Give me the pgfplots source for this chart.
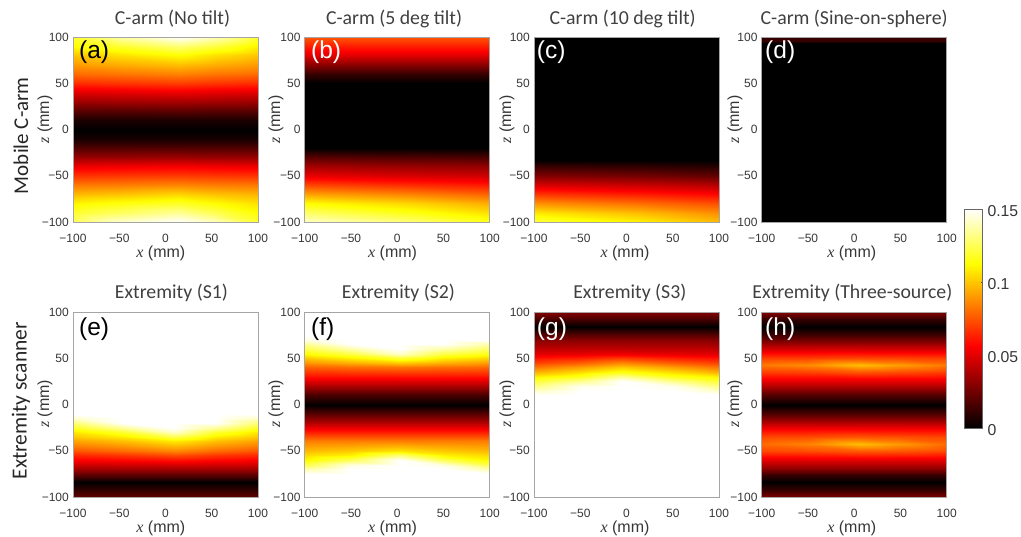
\documentclass[border=0pt]{standalone}
\usepackage{fontspec}
\setmainfont{Liberation Sans}
\newfontfamily\carl{Carlito}
\newfontfamily\tser{Liberation Serif}
\usepackage{pgfplots}
\usepackage{pgfplotstable}
\pgfplotsset{compat=1.18}
\definecolor{tickgray}{RGB}{55,55,55}
\definecolor{framegray}{RGB}{165,165,165}
\newcommand{\fs}[1]{\fontsize{#1}{#1}\selectfont}
\pgfplotstableread[row sep=\\]{
x z v\\
-100 -100 .126\\ -50 -100 .143\\ 15 -100 .15\\ 55 -100 .14\\ 100 -100 .12\\
-100 -90 .12\\ -50 -90 .127\\ 15 -90 .135\\ 55 -90 .125\\ 100 -90 .113\\
-100 -80 .11\\ -50 -80 .114\\ 15 -80 .118\\ 55 -80 .112\\ 100 -80 .106\\
-100 -70 .097\\ -50 -70 .099\\ 15 -70 .103\\ 55 -70 .099\\ 100 -70 .096\\
-100 -60 .083\\ -50 -60 .084\\ 15 -60 .086\\ 55 -60 .084\\ 100 -60 .083\\
-100 -50 .068\\ -50 -50 .069\\ 15 -50 .07\\ 55 -50 .069\\ 100 -50 .068\\
-100 -40 .052\\ -50 -40 .053\\ 15 -40 .054\\ 55 -40 .053\\ 100 -40 .052\\
-100 -30 .033\\ -50 -30 .033\\ 15 -30 .034\\ 55 -30 .033\\ 100 -30 .033\\
-100 -20 .018\\ -50 -20 .018\\ 15 -20 .018\\ 55 -20 .018\\ 100 -20 .018\\
-100 -10 .005\\ -50 -10 .005\\ 15 -10 .005\\ 55 -10 .005\\ 100 -10 .005\\
-100 -1 0\\ -50 -1 0\\ 15 -1 0\\ 55 -1 0\\ 100 -1 0\\
-100 10 .006\\ -50 10 .006\\ 15 10 .006\\ 55 10 .006\\ 100 10 .006\\
-100 20 .019\\ -50 20 .019\\ 15 20 .02\\ 55 20 .019\\ 100 20 .019\\
-100 30 .034\\ -50 30 .035\\ 15 30 .036\\ 55 30 .035\\ 100 30 .034\\
-100 40 .05\\ -50 40 .051\\ 15 40 .053\\ 55 40 .051\\ 100 40 .05\\
-100 50 .066\\ -50 50 .068\\ 15 50 .07\\ 55 50 .068\\ 100 50 .066\\
-100 60 .08\\ -50 60 .082\\ 15 60 .085\\ 55 60 .082\\ 100 60 .08\\
-100 70 .09\\ -50 70 .094\\ 15 70 .098\\ 55 70 .094\\ 100 70 .09\\
-100 80 .1\\ -50 80 .106\\ 15 80 .113\\ 55 80 .106\\ 100 80 .1\\
-100 90 .113\\ -50 90 .12\\ 15 90 .13\\ 55 90 .122\\ 100 90 .11\\
-100 100 .12\\ -50 100 .137\\ 15 100 .15\\ 55 100 .14\\ 100 100 .12\\
}\tabA
\pgfplotstableread[row sep=\\]{
x z v\\
-100 -100 .142\\ 15 -100 .13\\ 100 -100 .117\\
-100 -90 .128\\ 15 -90 .116\\ 100 -90 .106\\
-100 -80 .112\\ 15 -80 .103\\ 100 -80 .094\\
-100 -70 .092\\ 15 -70 .085\\ 100 -70 .078\\
-100 -60 .072\\ 15 -60 .066\\ 100 -60 .062\\
-100 -50 .052\\ 15 -50 .048\\ 100 -50 .046\\
-100 -40 .036\\ 15 -40 .033\\ 100 -40 .032\\
-100 -30 .019\\ 15 -30 .017\\ 100 -30 .016\\
-100 -20 0\\ 15 -20 0\\ 100 -20 0\\
-100 50 0\\ 15 50 0\\ 100 50 0\\
-100 60 .012\\ 15 60 .012\\ 100 60 .012\\
-100 70 .03\\ 15 70 .03\\ 100 70 .03\\
-100 80 .05\\ 15 80 .05\\ 100 80 .05\\
-100 90 .063\\ 15 90 .063\\ 100 90 .063\\
-100 100 .075\\ 15 100 .075\\ 100 100 .075\\
}\tabB
\pgfplotstableread[row sep=\\]{
x z v\\
-100 -100 .122\\ 15 -100 .11\\ 100 -100 .098\\
-100 -90 .108\\ 15 -90 .098\\ 100 -90 .088\\
-100 -80 .088\\ 15 -80 .08\\ 100 -80 .073\\
-100 -70 .068\\ 15 -70 .062\\ 100 -70 .057\\
-100 -60 .048\\ 15 -60 .044\\ 100 -60 .04\\
-100 -50 .029\\ 15 -50 .026\\ 100 -50 .022\\
-100 -40 .012\\ 15 -40 .01\\ 100 -40 .008\\
-100 -33 0\\ 15 -33 0\\ 100 -33 0\\
-100 100 0\\ 15 100 0\\ 100 100 0\\
}\tabC
\pgfplotstableread[row sep=\\]{
x z v\\
-100 -100 0\\ 100 -100 0\\
-100 94 0\\ 100 94 0\\
-100 96 .012\\ 100 96 .012\\
-100 100 .012\\ 100 100 .012\\
}\tabD
\pgfplotstableread[row sep=\\]{
x z v\\
-100 -100 .022\\ -45 -100 .022\\ 10 -100 .022\\ 55 -100 .022\\ 100 -100 .022\\
-100 -90 .008\\ -45 -90 .008\\ 10 -90 .008\\ 55 -90 .008\\ 100 -90 .008\\
-100 -84 0\\ -45 -84 0\\ 10 -84 0\\ 55 -84 0\\ 100 -84 0\\
-100 -80 .012\\ -45 -80 .012\\ 10 -80 .012\\ 55 -80 .012\\ 100 -80 .012\\
-100 -70 .036\\ -45 -70 .036\\ 10 -70 .036\\ 55 -70 .036\\ 100 -70 .036\\
-100 -60 .056\\ -45 -60 .0575\\ 10 -60 .06\\ 55 -60 .0575\\ 100 -60 .056\\
-100 -55 .065\\ -45 -55 .0685\\ 10 -55 .0735\\ 55 -55 .0685\\ 100 -55 .065\\
-100 -50 .0747\\ -45 -50 .0795\\ 10 -50 .086\\ 55 -50 .0795\\ 100 -50 .0747\\
-100 -45 .084\\ -45 -45 .0895\\ 10 -45 .097\\ 55 -45 .0895\\ 100 -45 .084\\
-100 -40 .092\\ -45 -40 .0985\\ 10 -40 .108\\ 55 -40 .0985\\ 100 -40 .092\\
-100 -35 .1\\ -45 -35 .108\\ 10 -35 .1237\\ 55 -35 .108\\ 100 -35 .1\\
-100 -30 .1077\\ -45 -30 .12\\ 10 -30 .1425\\ 55 -30 .12\\ 100 -30 .1077\\
-100 -25 .1175\\ -45 -25 .135\\ 10 -25 .15\\ 55 -25 .135\\ 100 -25 .1175\\
-100 -20 .13\\ -45 -20 .15\\ 10 -20 .15\\ 55 -20 .15\\ 100 -20 .13\\
-100 -15 .1425\\ -45 -15 .15\\ 10 -15 .15\\ 55 -15 .15\\ 100 -15 .1425\\
-100 -10 .15\\ -45 -10 .15\\ 10 -10 .15\\ 55 -10 .15\\ 100 -10 .15\\
-100 100 .15\\ -45 100 .15\\ 10 100 .15\\ 55 100 .15\\ 100 100 .15\\
}\tabE
\pgfplotstableread[row sep=\\]{
x z v\\
-100 -100 .15\\ -50 -100 .15\\ 3 -100 .15\\ 50 -100 .15\\ 100 -100 .15\\
-100 -75 .15\\ -50 -75 .15\\ 3 -75 .15\\ 50 -75 .15\\ 100 -75 .15\\
-100 -70 .138\\ -50 -70 .15\\ 3 -70 .15\\ 50 -70 .15\\ 100 -70 .138\\
-100 -65 .124\\ -50 -65 .146\\ 3 -65 .15\\ 50 -65 .146\\ 100 -65 .124\\
-100 -60 .111\\ -50 -60 .1255\\ 3 -60 .15\\ 50 -60 .1255\\ 100 -60 .111\\
-100 -55 .1043\\ -50 -55 .1095\\ 3 -55 .1295\\ 50 -55 .1095\\ 100 -55 .1043\\
-100 -50 .0975\\ -50 -50 .101\\ 3 -50 .1068\\ 50 -50 .101\\ 100 -50 .0975\\
-100 -45 .0908\\ -50 -45 .0925\\ 3 -45 .0954\\ 50 -45 .0925\\ 100 -45 .0908\\
-100 -40 .084\\ -50 -40 .084\\ 3 -40 .084\\ 50 -40 .084\\ 100 -40 .084\\
-100 -30 .0625\\ -50 -30 .0625\\ 3 -30 .0625\\ 50 -30 .0625\\ 100 -30 .0625\\
-100 -20 .04\\ -50 -20 .04\\ 3 -20 .04\\ 50 -20 .04\\ 100 -20 .04\\
-100 -10 .02\\ -50 -10 .02\\ 3 -10 .02\\ 50 -10 .02\\ 100 -10 .02\\
-100 -1 0\\ -50 -1 0\\ 3 -1 0\\ 50 -1 0\\ 100 -1 0\\
-100 10 .016\\ -50 10 .016\\ 3 10 .016\\ 50 10 .016\\ 100 10 .016\\
-100 20 .038\\ -50 20 .038\\ 3 20 .038\\ 50 20 .038\\ 100 20 .038\\
-100 30 .059\\ -50 30 .059\\ 3 30 .059\\ 50 30 .059\\ 100 30 .059\\
-100 40 .078\\ -50 40 .0805\\ 3 40 .082\\ 50 40 .0805\\ 100 40 .079\\
-100 45 .0887\\ -50 45 .0945\\ 3 45 .1\\ 50 45 .0945\\ 100 45 .09\\
-100 50 .1006\\ -50 50 .1093\\ 3 50 .1208\\ 50 50 .1093\\ 100 50 .1033\\
-100 55 .1125\\ -50 55 .1226\\ 3 55 .1417\\ 50 55 .1226\\ 100 55 .1148\\
-100 60 .1235\\ -50 60 .137\\ 3 60 .15\\ 50 60 .137\\ 100 60 .1265\\
-100 65 .1345\\ -50 65 .15\\ 3 65 .15\\ 50 65 .15\\ 100 65 .138\\
-100 70 .1456\\ -50 70 .15\\ 3 70 .15\\ 50 70 .15\\ 100 70 .15\\
-100 75 .15\\ -50 75 .15\\ 3 75 .15\\ 50 75 .15\\ 100 75 .15\\
-100 100 .15\\ -50 100 .15\\ 3 100 .15\\ 50 100 .15\\ 100 100 .15\\
}\tabF
\pgfplotstableread[row sep=\\]{
x z v\\
-100 -100 .15\\ -50 -100 .15\\ -5 -100 .15\\ 50 -100 .15\\ 100 -100 .15\\
-100 10 .15\\ -50 10 .15\\ -5 10 .15\\ 50 10 .15\\ 100 10 .15\\
-100 15 .1425\\ -50 15 .15\\ -5 15 .15\\ 50 15 .15\\ 100 15 .1425\\
-100 20 .131\\ -50 20 .147\\ -5 20 .15\\ 50 20 .147\\ 100 20 .131\\
-100 25 .12\\ -50 25 .133\\ -5 25 .15\\ 50 25 .133\\ 100 25 .12\\
-100 30 .1105\\ -50 30 .118\\ -5 30 .136\\ 50 30 .118\\ 100 30 .1105\\
-100 35 .095\\ -50 35 .1045\\ -5 35 .115\\ 50 35 .1045\\ 100 35 .095\\
-100 40 .082\\ -50 40 .091\\ -5 40 .1005\\ 50 40 .091\\ 100 40 .082\\
-100 45 .071\\ -50 45 .0775\\ -5 45 .0868\\ 50 45 .0775\\ 100 45 .071\\
-100 50 .06\\ -50 50 .0636\\ -5 50 .0693\\ 50 50 .0636\\ 100 50 .06\\
-100 55 .05\\ -50 55 .051\\ -5 55 .053\\ 50 55 .051\\ 100 55 .05\\
-100 60 .043\\ -50 60 .043\\ -5 60 .043\\ 50 60 .043\\ 100 60 .043\\
-100 70 .03\\ -50 70 .03\\ -5 70 .03\\ 50 70 .03\\ 100 70 .03\\
-100 80 .008\\ -50 80 .008\\ -5 80 .008\\ 50 80 .008\\ 100 80 .008\\
-100 84 0\\ -50 84 0\\ -5 84 0\\ 50 84 0\\ 100 84 0\\
-100 90 .012\\ -50 90 .012\\ -5 90 .012\\ 50 90 .012\\ 100 90 .012\\
-100 100 .03\\ -50 100 .03\\ -5 100 .03\\ 50 100 .03\\ 100 100 .03\\
}\tabG
\pgfplotstableread[row sep=\\]{
x z v\\
-100 -100 .028\\ -50 -100 .028\\ 5 -100 .028\\ 50 -100 .028\\ 100 -100 .028\\
-100 -92 .012\\ -50 -92 .012\\ 5 -92 .012\\ 50 -92 .012\\ 100 -92 .012\\
-100 -84 0\\ -50 -84 0\\ 5 -84 0\\ 50 -84 0\\ 100 -84 0\\
-100 -76 .012\\ -50 -76 .012\\ 5 -76 .012\\ 50 -76 .012\\ 100 -76 .012\\
-100 -70 .03\\ -50 -70 .03\\ 5 -70 .03\\ 50 -70 .03\\ 100 -70 .03\\
-100 -60 .05\\ -50 -60 .05\\ 5 -60 .05\\ 50 -60 .05\\ 100 -60 .05\\
-100 -50 .072\\ -50 -50 .073\\ 5 -50 .076\\ 50 -50 .075\\ 100 -50 .072\\
-100 -43 .08\\ -50 -43 .085\\ 5 -43 .098\\ 50 -43 .09\\ 100 -43 .08\\
-100 -35 .072\\ -50 -35 .073\\ 5 -35 .076\\ 50 -35 .074\\ 100 -35 .072\\
-100 -28 .058\\ -50 -28 .058\\ 5 -28 .058\\ 50 -28 .058\\ 100 -28 .058\\
-100 -20 .04\\ -50 -20 .04\\ 5 -20 .04\\ 50 -20 .04\\ 100 -20 .04\\
-100 -10 .018\\ -50 -10 .018\\ 5 -10 .018\\ 50 -10 .018\\ 100 -10 .018\\
-100 -1 0\\ -50 -1 0\\ 5 -1 0\\ 50 -1 0\\ 100 -1 0\\
-100 10 .018\\ -50 10 .018\\ 5 10 .018\\ 50 10 .018\\ 100 10 .018\\
-100 20 .04\\ -50 20 .04\\ 5 20 .04\\ 50 20 .04\\ 100 20 .04\\
-100 28 .055\\ -50 28 .055\\ 5 28 .055\\ 50 28 .055\\ 100 28 .055\\
-100 35 .07\\ -50 35 .071\\ 5 35 .075\\ 50 35 .073\\ 100 35 .07\\
-100 43 .083\\ -50 43 .087\\ 5 43 .098\\ 50 43 .091\\ 100 43 .083\\
-100 50 .07\\ -50 50 .07\\ 5 50 .072\\ 50 50 .071\\ 100 50 .07\\
-100 60 .047\\ -50 60 .047\\ 5 60 .047\\ 50 60 .047\\ 100 60 .047\\
-100 70 .025\\ -50 70 .025\\ 5 70 .025\\ 50 70 .025\\ 100 70 .025\\
-100 76 .012\\ -50 76 .012\\ 5 76 .012\\ 50 76 .012\\ 100 76 .012\\
-100 84 0\\ -50 84 0\\ 5 84 0\\ 50 84 0\\ 100 84 0\\
-100 92 .012\\ -50 92 .012\\ 5 92 .012\\ 50 92 .012\\ 100 92 .012\\
-100 100 .03\\ -50 100 .03\\ 5 100 .03\\ 50 100 .03\\ 100 100 .03\\
}\tabH
\pgfplotstableread[row sep=\\]{
x z v\\
0 0 0\\ 1 0 0\\
0 .15 .15\\ 1 .15 .15\\
}\tabBar
\pgfplotsset{
  colormap={hotmap}{rgb255(0pt)=(0,0,0) rgb255(3pt)=(255,0,0) rgb255(6pt)=(255,255,0) rgb255(8pt)=(255,255,255)},
  every axis title shift/.style={},
  panel/.style={
    scale only axis, width=185pt, height=185pt,
    xmin=-100, xmax=100, ymin=-100, ymax=100,
    point meta min=0, point meta max=0.15,
    axis on top, tick pos=left, major tick length=0pt,
    axis line style={draw=framegray, line width=0.9pt},
    xtick={-100,-50,0,50,100}, ytick={-100,-50,0,50,100},
    xticklabels={−100,−50,0,50,100}, yticklabels={−100,−50,0,50,100},
    xticklabel style={font=\fs{12}, text=tickgray, anchor=center, yshift=-16.5pt, inner sep=0pt},
    yticklabel style={font=\fs{12}, text=tickgray, anchor=east, xshift=-4pt, yshift=0pt, inner sep=0pt},
    xlabel={{\tser\itshape x} (mm)},
    ylabel={{\tser\itshape z} (mm)},
    xlabel style={font=\fs{16}, text=tickgray, anchor=center},
    ylabel style={font=\fs{16}, text=tickgray, anchor=center},
    title style={font=\carl\fs{19.8}, text=black!75, anchor=center},
  },
  hm/.style={surf, shader=interp, mesh/cols=#1, point meta=\thisrow{v}},
}
\newcommand{\plab}[4]{\node[anchor=west, inner sep=0pt, text=#3, font=\fs{24.5}] at (axis description cs:#1,#2) {#4};}
\begin{document}
\begin{tikzpicture}[x=1pt,y=1pt]
\path[use as bounding box] (0,0) rectangle (1021,537);
% row 1
\begin{axis}[panel, at={(73pt,315pt)},
  title={C-arm (No tilt)}, title style={at={(axis description cs:0.538,1.065)}},
  xlabel style={at={(axis description cs:0.475,-0.17)}},
  ylabel style={at={(axis description cs:-0.151,0.554)}}]
\addplot[hm=5] table[x=x,y=z] {\tabA};
\plab{0.032}{0.919}{black}{(a)}
\end{axis}
\begin{axis}[panel, at={(304.7pt,315pt)},
  title={C-arm (5 deg tilt)}, title style={at={(axis description cs:0.483,1.065)}},
  xlabel style={at={(axis description cs:0.475,-0.17)}},
  ylabel style={at={(axis description cs:-0.155,0.554)}}]
\addplot[hm=3] table[x=x,y=z] {\tabB};
\plab{0.034}{0.919}{white}{(b)}
\end{axis}
\begin{axis}[panel, at={(534pt,315pt)},
  title={C-arm (10 deg tilt)}, title style={at={(axis description cs:0.479,1.065)}},
  xlabel style={at={(axis description cs:0.492,-0.17)}},
  ylabel style={at={(axis description cs:-0.146,0.554)}}]
\addplot[hm=3] table[x=x,y=z] {\tabC};
\plab{0.015}{0.919}{white}{(c)}
\end{axis}
\begin{axis}[panel, at={(761.7pt,315pt)},
  title={C-arm (Sine-on-sphere)}, title style={at={(axis description cs:0.5,1.065)}},
  xlabel style={at={(axis description cs:0.487,-0.17)}},
  ylabel style={at={(axis description cs:-0.144,0.554)}}]
\addplot[hm=2] table[x=x,y=z] {\tabD};
\plab{0.018}{0.919}{white}{(d)}
\end{axis}
% row 2
\begin{axis}[panel, at={(73pt,40pt)},
  title={Extremity (S1)}, title style={at={(axis description cs:0.532,1.07)}},
  xlabel style={at={(axis description cs:0.475,-0.17)}},
  ylabel style={at={(axis description cs:-0.151,0.504)}}]
\addplot[hm=5] table[x=x,y=z] {\tabE};
\plab{0.032}{0.908}{black}{(e)}
\end{axis}
\begin{axis}[panel, at={(304.7pt,40pt)},
  title={Extremity (S2)}, title style={at={(axis description cs:0.507,1.07)}},
  xlabel style={at={(axis description cs:0.475,-0.17)}},
  ylabel style={at={(axis description cs:-0.155,0.504)}}]
\addplot[hm=5] table[x=x,y=z] {\tabF};
\plab{0.034}{0.908}{black}{(f)}
\end{axis}
\begin{axis}[panel, at={(534pt,40pt)},
  title={Extremity (S3)}, title style={at={(axis description cs:0.518,1.07)}},
  xlabel style={at={(axis description cs:0.492,-0.17)}},
  ylabel style={at={(axis description cs:-0.146,0.504)}}]
\addplot[hm=5] table[x=x,y=z] {\tabG};
\plab{0.015}{0.908}{white}{(g)}
\end{axis}
\begin{axis}[panel, at={(761.7pt,40pt)},
  title={Extremity (Three-source)}, title style={at={(axis description cs:0.49,1.07)}},
  xlabel style={at={(axis description cs:0.487,-0.17)}},
  ylabel style={at={(axis description cs:-0.144,0.504)}}]
\addplot[hm=5] table[x=x,y=z] {\tabH};
\plab{0.018}{0.908}{white}{(h)}
\end{axis}
% colour bar
\begin{axis}[scale only axis, width=18pt, height=219pt, at={(964.3pt,109pt)},
  xmin=0, xmax=1, ymin=0, ymax=0.15, point meta min=0, point meta max=0.15,
  axis on top, xtick=\empty, ytick={0,0.05,0.1,0.15}, yticklabels={0,0.05,0.1,0.15},
  ytick pos=right, tick align=inside, major tick length=1.5pt,
  axis line style={draw=black!60, line width=0.9pt},
  every tick/.style={draw=black!70, line width=0.6pt},
  yticklabel style={font=\fs{15.8}, text=tickgray, anchor=west, inner sep=0pt, xshift=5pt, yshift=-2pt}]
\addplot[hm=2] table[x=x,y=z] {\tabBar};
\end{axis}
% row names
\node[rotate=90, anchor=center, font=\carl\fs{21}, text=black!85] at (21,401.3) {Mobile C-arm};
\node[rotate=90, anchor=center, font=\carl\fs{21.5}, text=black!85] at (21,136.2) {Extremity scanner};
\end{tikzpicture}
\end{document}
